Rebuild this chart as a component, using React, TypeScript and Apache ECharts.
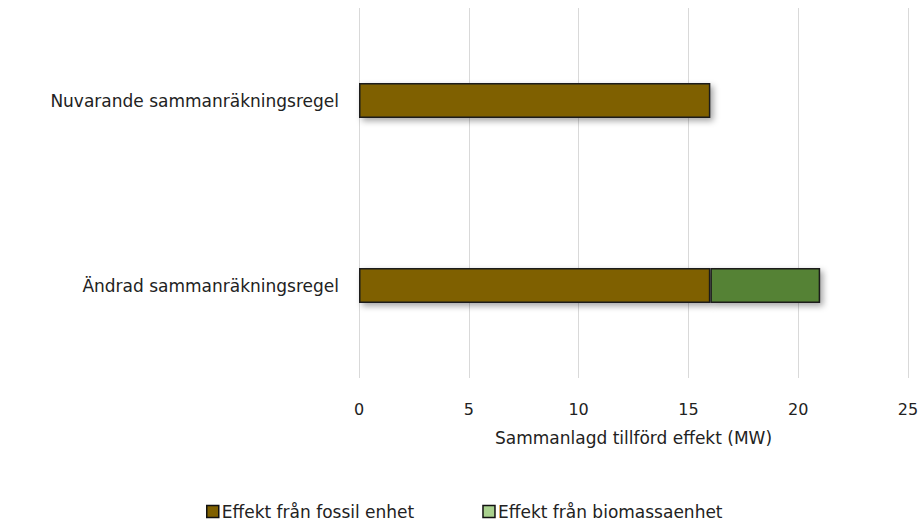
import React, { useEffect, useRef } from "react";
import * as echarts from "echarts";

const categories = ["Ändrad sammanräkningsregel", "Nuvarande sammanräkningsregel"];
const fossilValues = [16, 16];
const biomassValues = [5, 0];
const seriesNames = ["Effekt från fossil enhet", "Effekt från biomassaenhet"];
const axisTitle = "Sammanlagd tillförd effekt (MW)";

export default function App() {
  const ref = useRef<HTMLDivElement>(null);
  useEffect(() => {
    document.body.style.margin = "0";
    const chart = echarts.init(ref.current!, null, { renderer: "svg" });
    const font = "'DejaVu Sans', 'Open Sans', sans-serif";
    const barStyle = (color: string) => ({
      color,
      borderColor: "#1a1a1a",
      borderWidth: 1.5,
      shadowColor: "rgba(0,0,0,0.35)",
      shadowBlur: 6,
      shadowOffsetX: 3,
      shadowOffsetY: 3,
    });
    chart.setOption({
      animation: false,
      backgroundColor: "#ffffff",
      grid: { left: 359, right: 15, top: 8, height: 370, containLabel: false },
      legend: {
        bottom: 3,
        left: 201,
        itemWidth: 12,
        itemHeight: 12,
        itemGap: 68,
        icon: "rect",
        textStyle: { fontFamily: font, fontSize: 17, color: "#222", padding: [0, 0, 0, -2] },
        data: [
          { name: seriesNames[0], itemStyle: { color: "#7f6000", borderColor: "#111", borderWidth: 1.5 } },
          { name: seriesNames[1], itemStyle: { color: "#a9d18e", borderColor: "#111", borderWidth: 1.5 } },
        ],
      },
      xAxis: {
        type: "value",
        min: 0,
        max: 25,
        interval: 5,
        name: axisTitle,
        nameLocation: "middle",
        nameGap: 51,
        nameTextStyle: { fontFamily: font, fontSize: 17, color: "#222" },
        axisLine: { show: false },
        axisTick: { show: false },
        axisLabel: { fontFamily: font, fontSize: 16, color: "#222", margin: 23 },
        splitLine: { lineStyle: { color: "#d9d9d9", width: 1 } },
      },
      yAxis: {
        type: "category",
        data: categories,
        axisLine: { show: false },
        axisTick: { show: false },
        axisLabel: { fontFamily: font, fontSize: 17, color: "#222", margin: 20 },
      },
      series: [
        {
          name: seriesNames[0],
          type: "bar",
          stack: "total",
          barWidth: 35,
          data: fossilValues,
          itemStyle: barStyle("#7f6000"),
        },
        {
          name: seriesNames[1],
          type: "bar",
          stack: "total",
          barWidth: 35,
          data: biomassValues,
          itemStyle: barStyle("#548235"),
        },
      ],
    });
    return () => chart.dispose();
  }, []);
  return <div ref={ref} style={{ width: 923, height: 528 }} />;
}
